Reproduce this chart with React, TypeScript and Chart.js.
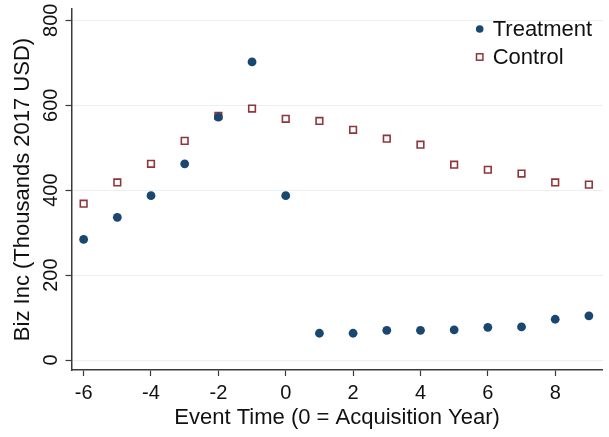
import React, { useEffect, useRef } from "react";
import { Chart, registerables } from "chart.js";

Chart.register(...registerables);

const eventTimes = [-6, -5, -4, -3, -2, -1, 0, 1, 2, 3, 4, 5, 6, 7, 8, 9];
const treatmentValues = [284, 336, 387, 462, 572, 702, 387, 63, 63, 70, 70, 71, 77, 78, 96, 104];
const controlValues = [368, 418, 462, 516, 575, 592, 568, 563, 542, 521, 507, 460, 448, 439, 418, 413];
const xTickValues = [-6, -4, -2, 0, 2, 4, 6, 8];
const yTickValues = [0, 200, 400, 600, 800];
const seriesLabels = ["Treatment", "Control"];

const NAVY = "#1a476f";
const MAROON = "#90353b";
const FONT = "'Liberation Sans', Arial, sans-serif";

const legendPlugin = {
  id: "insideLegend",
  afterDraw(chart: any) {
    const { ctx, chartArea } = chart;
    const mx = chartArea.right - 123;
    const rows = [chartArea.top + 20, chartArea.top + 48];
    ctx.save();
    chart.data.datasets.forEach((ds: any, i: number) => {
      const y = rows[i];
      if (ds.pointStyle === "circle") {
        ctx.beginPath();
        ctx.arc(mx, y, 3.8, 0, Math.PI * 2);
        ctx.fillStyle = ds.pointBackgroundColor;
        ctx.fill();
      } else {
        ctx.lineWidth = 1.5;
        ctx.strokeStyle = ds.pointBorderColor;
        ctx.fillStyle = "#ffffff";
        ctx.fillRect(mx - 3.2, y - 3.2, 6.4, 6.4);
        ctx.strokeRect(mx - 3.2, y - 3.2, 6.4, 6.4);
      }
      ctx.fillStyle = "#111111";
      ctx.font = `22px ${FONT}`;
      ctx.textBaseline = "middle";
      ctx.textAlign = "left";
      ctx.fillText(ds.label, mx + 13, y + 1);
    });
    ctx.restore();
  },
};

export default function App() {
  const ref = useRef<HTMLCanvasElement | null>(null);
  useEffect(() => {
    document.body.style.margin = "0";
    if (!ref.current) return;
    const chart = new Chart(ref.current, {
      type: "scatter",
      data: {
        datasets: [
          {
            label: seriesLabels[0],
            data: eventTimes.map((x, i) => ({ x, y: treatmentValues[i] })),
            pointStyle: "circle",
            pointRadius: 4.4,
            pointBackgroundColor: NAVY,
            pointBorderColor: NAVY,
            pointBorderWidth: 0,
          },
          {
            label: seriesLabels[1],
            data: eventTimes.map((x, i) => ({ x, y: controlValues[i] })),
            pointStyle: "rect",
            pointRadius: 4.7,
            pointBackgroundColor: "rgba(255,255,255,0)",
            pointBorderColor: MAROON,
            pointBorderWidth: 1.6,
          },
        ],
      },
      options: {
        responsive: false,
        animation: false,
        layout: { padding: { top: 8, right: 4, left: 0, bottom: 0 } },
        plugins: { legend: { display: false }, tooltip: { enabled: false } },
        scales: {
          x: {
            type: "linear",
            min: -6.36,
            max: 9.41,
            afterBuildTicks: (s: any) => {
              s.ticks = xTickValues.map((v) => ({ value: v }));
            },
            afterFit: (s: any) => {
              s.height = 67;
            },
            border: { display: true, color: "#3a3a3a", width: 1.5 },
            grid: {
              drawOnChartArea: false,
              drawTicks: true,
              tickLength: 6,
              tickColor: "#3a3a3a",
              tickWidth: 1.2,
            },
            ticks: {
              color: "#111111",
              font: { family: FONT, size: 20 },
              padding: 5,
              maxRotation: 0,
              autoSkip: false,
            },
            title: {
              display: true,
              text: "Event Time (0 = Acquisition Year)",
              color: "#111111",
              font: { family: FONT, size: 22 },
              padding: { top: 0, bottom: 6 },
            },
          },
          y: {
            type: "linear",
            min: -23.5,
            max: 826.5,
            afterBuildTicks: (s: any) => {
              s.ticks = yTickValues.map((v) => ({ value: v }));
            },
            afterFit: (s: any) => {
              s.width = 71.5;
            },
            border: { display: true, color: "#3a3a3a", width: 1.5 },
            grid: {
              drawOnChartArea: true,
              color: "#e8f0f2",
              lineWidth: 1,
              drawTicks: true,
              tickLength: 6,
              tickColor: "#3a3a3a",
              tickWidth: 1.2,
            },
            ticks: {
              color: "#111111",
              font: { family: FONT, size: 20 },
              padding: -3,
              minRotation: 90,
              maxRotation: 90,
              crossAlign: "center",
              autoSkip: false,
            },
            title: {
              display: true,
              text: "Biz Inc (Thousands 2017 USD)",
              color: "#111111",
              font: { family: FONT, size: 22 },
              padding: { top: 10, bottom: 0 },
            },
          },
        },
      },
      plugins: [legendPlugin],
    } as any);
    return () => chart.destroy();
  }, []);
  return (
    <div style={{ width: 609, height: 437 }}>
      <canvas ref={ref} width={609} height={437} style={{ display: "block" }} />
    </div>
  );
}
